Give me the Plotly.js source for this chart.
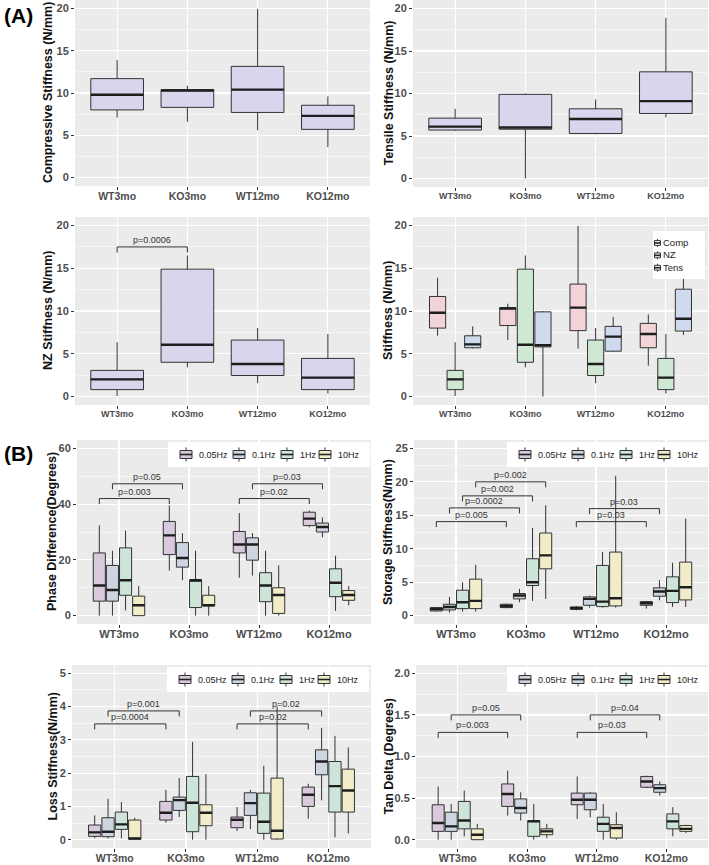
<!DOCTYPE html>
<html><head><meta charset="utf-8">
<script src="https://cdn.plot.ly/plotly-3.0.1.min.js"></script>
<style>html,body{margin:0;padding:0;background:#fff}#chart{width:709px;height:865px}</style>
</head><body><div id="chart"></div>
<script>
// ---------- categories ----------
const groups = ['WT3mo', 'KO3mo', 'WT12mo', 'KO12mo'];
const freqs = ['0.05Hz', '0.1Hz', '1Hz', '10Hz'];
const stiffNames = ['Comp', 'NZ', 'Tens'];

// ---------- panel A: box statistics per group ----------
const compLow  = [7.1, 6.6, 5.6, 3.6];
const compQ1   = [8.0, 8.3, 7.7, 5.7];
const compMed  = [9.8, 10.3, 10.4, 7.3];
const compQ3   = [11.7, 10.4, 13.15, 8.55];
const compHigh = [13.9, 10.85, 19.95, 9.6];

const tensLow  = [5.6, 0.0, 5.2, 7.2];
const tensQ1   = [5.7, 5.8, 5.3, 7.65];
const tensMed  = [6.1, 6.0, 7.0, 9.1];
const tensQ3   = [7.1, 9.9, 8.2, 12.55];
const tensHigh = [8.2, 10.0, 9.3, 18.9];

const nzLow  = [0.05, 3.4, 1.55, 0.35];
const nzQ1   = [0.8, 4.0, 2.45, 0.8];
const nzMed  = [2.0, 6.05, 3.8, 2.2];
const nzQ3   = [3.05, 14.9, 6.6, 4.45];
const nzHigh = [6.35, 16.5, 8.0, 7.3];

// ---------- panel B: rows = frequency (0.05,0.1,1,10 Hz), cols = groups ----------
const phaseLow  = [[0, 16.2, 13.6, 31.7], [0, 12.7, 14.4, 28.1], [1.9, 0, 0, 1.7], [0, 0, 0, 3.7]];
const phaseQ1   = [[5.2, 21.9, 22.5, 32.3], [5.2, 17.4, 19.9, 30.0], [7.3, 2.9, 5.0, 6.8], [0, 3.5, 0.8, 5.5]];
const phaseMed  = [[10.8, 28.8, 25.5, 34.8], [9.2, 20.7, 25.5, 31.8], [12.7, 12.7, 10.8, 11.8], [3.7, 3.7, 7.4, 7.4]];
const phaseQ3   = [[22.5, 33.8, 30.2, 37.1], [18.0, 26.2, 27.9, 33.2], [24.3, 12.7, 15.4, 16.8], [7.0, 7.3, 10.0, 9.0]];
const phaseHigh = [[32.4, 39.5, 36.8, 37.7], [23.3, 29.6, 29.6, 35.2], [30.5, 23.3, 23.3, 21.5], [10.6, 10.6, 18.0, 10.6]];

const storLow  = [[0.6, 1.1, 0.8, 1.05], [0.45, 2.0, 1.2, 2.3], [0.6, 2.2, 1.2, 1.3], [0.6, 2.5, 1.2, 1.3]];
const storQ1   = [[0.7, 1.2, 0.95, 1.55], [0.85, 2.5, 1.55, 2.9], [1.05, 4.5, 1.35, 1.95], [1.05, 7.0, 1.45, 2.35]];
const storMed  = [[1.0, 1.45, 1.1, 1.85], [1.3, 3.0, 2.5, 3.6], [2.0, 5.0, 2.1, 3.7], [2.2, 9.0, 2.6, 4.25]];
const storQ3   = [[1.2, 1.7, 1.3, 2.1], [1.7, 3.3, 2.8, 4.15], [3.8, 8.5, 7.5, 5.8], [5.45, 12.35, 9.5, 8.0]];
const storHigh = [[1.3, 1.8, 1.45, 2.2], [2.8, 4.0, 3.0, 5.3], [5.0, 13.1, 9.5, 7.9], [7.6, 16.5, 20.9, 14.5]];

const lossLow  = [[0.04, 0.51, 0.26, 0.63], [0.04, 0.68, 0.32, 1.18], [0.04, 0, 0, 0.07], [0, 0, 0, 0.19]];
const lossQ1   = [[0.1, 0.59, 0.36, 1.0], [0.09, 0.88, 0.73, 1.95], [0.31, 0.24, 0.19, 0.83], [0.01, 0.42, 0.02, 0.83]];
const lossMed  = [[0.22, 0.81, 0.6, 1.35], [0.24, 1.19, 1.1, 2.35], [0.46, 1.11, 0.54, 1.61], [0.04, 0.81, 0.27, 1.48]];
const lossQ3   = [[0.44, 1.15, 0.68, 1.58], [0.66, 1.28, 1.41, 2.7], [0.83, 1.9, 1.4, 2.35], [0.59, 1.05, 1.85, 2.12]];
const lossHigh = [[0.73, 1.5, 0.98, 1.68], [1.23, 1.85, 1.5, 3.36], [1.13, 2.94, 2.22, 3.12], [0.66, 1.97, 4.0, 2.77]];

const tanLow  = [[0, 0.29, 0.25, 0.62], [0, 0.23, 0.27, 0.53], [0.04, 0, 0, 0.04], [0, 0.02, 0, 0.08]];
const tanQ1   = [[0.1, 0.4, 0.42, 0.63], [0.1, 0.32, 0.36, 0.57], [0.13, 0.04, 0.1, 0.13], [0, 0.06, 0.02, 0.1]];
const tanMed  = [[0.2, 0.55, 0.48, 0.7], [0.16, 0.38, 0.48, 0.62], [0.23, 0.22, 0.19, 0.22], [0.06, 0.1, 0.14, 0.13]];
const tanQ3   = [[0.42, 0.67, 0.56, 0.76], [0.33, 0.49, 0.56, 0.66], [0.46, 0.23, 0.27, 0.31], [0.13, 0.13, 0.18, 0.17]];
const tanHigh = [[0.64, 0.83, 0.76, 0.77], [0.43, 0.57, 0.57, 0.7], [0.59, 0.43, 0.43, 0.39], [0.19, 0.19, 0.33, 0.18]];

// ---------- significance brackets: [group A, group B, series index, height, label] ----------
const nzSig = [['WT3mo', 'KO3mo', -1, 17.5, 'p=0.0006']];
const phaseSig = [['WT3mo', 'KO3mo', 0, 42, 'p=0.003'], ['WT3mo', 'KO3mo', 1, 47.3, 'p=0.05'],
                  ['WT12mo', 'KO12mo', 0, 42, 'p=0.02'], ['WT12mo', 'KO12mo', 1, 47.3, 'p=0.03']];
const storSig = [['WT3mo', 'KO3mo', 0, 14.05, 'p=0.005'], ['WT3mo', 'KO3mo', 1, 16.1, 'p=0.0002'],
                 ['WT3mo', 'KO3mo', 2, 17.9, 'p=0.002'], ['WT3mo', 'KO3mo', 3, 20.0, 'p=0.002'],
                 ['WT12mo', 'KO12mo', 0, 14.05, 'p=0.03'], ['WT12mo', 'KO12mo', 1, 16.0, 'p=0.03']];
const lossSig = [['WT3mo', 'KO3mo', 0, 3.48, 'p=0.0004'], ['WT3mo', 'KO3mo', 1, 3.87, 'p=0.001'],
                 ['WT12mo', 'KO12mo', 0, 3.48, 'p=0.02'], ['WT12mo', 'KO12mo', 1, 3.87, 'p=0.02']];
const tanSig = [['WT3mo', 'KO3mo', 0, 1.29, 'p=0.003'], ['WT3mo', 'KO3mo', 1, 1.5, 'p=0.05'],
                ['WT12mo', 'KO12mo', 0, 1.29, 'p=0.03'], ['WT12mo', 'KO12mo', 1, 1.5, 'p=0.04']];

// ---------- styles ----------
const singleFill = '#D9D5EC';
const stiffFill = ['#F2D3D8', '#CFE8D3', '#CFDAEE'];
const freqFill = ['#D8C9DC', '#CCD5E0', '#CCE5D8', '#F2EDC9'];
const W = 709, H = 865;
const fx = p => p / W;
const fy = p => 1 - p / H;
const BOXGAP = 0.25, GROUPGAP = 0.08;

const panels = [
  {id: '',  x0: 75,  x1: 370, y0: 0,   y1: 186, yr: [-1, 21], dt: 5, mn: 2.5, xfs: 10.5, title: 'Compressive Stiffness (N/mm)', tx: 48},
  {id: '2', x0: 413, x1: 708, y0: 0,   y1: 187, yr: [-1, 21], dt: 5, mn: 2.5, xfs: 9, title: 'Tensile Stiffness (N/mm)', tx: 388},
  {id: '3', x0: 75,  x1: 370, y0: 217, y1: 405, yr: [-1, 21], dt: 5, mn: 2.5, xfs: 9, title: 'NZ Stiffness (N/mm)', tx: 48},
  {id: '4', x0: 413, x1: 708, y0: 217, y1: 405, yr: [-1, 21], dt: 5, mn: 2.5, xfs: 9, title: 'Stiffness (N/mm)', tx: 388},
  {id: '5', x0: 77,  x1: 371, y0: 440, y1: 624, yr: [-3, 63], dt: 20, mn: 10, xfs: 11, title: 'Phase Difference(Degrees)', tx: 52},
  {id: '6', x0: 414, x1: 708, y0: 440, y1: 624, yr: [-1.25, 26.25], dt: 5, mn: 2.5, xfs: 11, title: 'Storage Stiffness(N/mm)', tx: 388},
  {id: '7', x0: 72,  x1: 371, y0: 665, y1: 848, yr: [-0.25, 5.25], dt: 1, mn: 0.5, xfs: 10.5, title: 'Loss Stiffness(N/mm)', tx: 52},
  {id: '8', x0: 416, x1: 708, y0: 665, y1: 848, yr: [-0.1, 2.1], dt: 0.5, mn: 0.25, xfs: 10.5, title: 'Tan Delta (Degrees)', tx: 388, fmt: '.1f'}
];

const layout = {
  width: W, height: H, autosize: false,
  margin: {l: 0, r: 0, t: 0, b: 0},
  paper_bgcolor: '#ffffff', plot_bgcolor: '#EBEBEB',
  showlegend: false, boxmode: 'group', boxgap: BOXGAP, boxgroupgap: GROUPGAP,
  font: {family: 'Liberation Sans, Arial, sans-serif', color: '#333'},
  shapes: [], annotations: []
};
const traces = [];

panels.forEach(p => {
  const k = p.id;
  layout['xaxis' + k] = {
    domain: [fx(p.x0), fx(p.x1)], anchor: 'y' + k, type: 'category',
    categoryorder: 'array', categoryarray: groups, range: [-0.6, 3.6],
    showgrid: true, gridcolor: '#ffffff', gridwidth: 1.2, zeroline: false, showline: false,
    ticks: 'outside', ticklen: 3, tickwidth: 1, tickcolor: '#333', ticklabelstandoff: -3,
    tickfont: {size: p.xfs, color: '#4D4D4D', weight: 'bold'}, fixedrange: true, automargin: false
  };
  layout['yaxis' + k] = {
    domain: [fy(p.y1), fy(p.y0)], anchor: 'x' + k, range: p.yr,
    tickmode: 'linear', tick0: 0, dtick: p.dt, tickformat: p.fmt || '',
    showgrid: true, gridcolor: '#ffffff', gridwidth: 1.2, zeroline: false, showline: false,
    minor: {dtick: p.mn, tick0: 0, showgrid: true, gridcolor: '#ffffff', gridwidth: 0.5},
    ticks: 'outside', ticklen: 3, tickwidth: 1, tickcolor: '#333',
    tickfont: {size: 11, color: '#4D4D4D', weight: 'bold'}, fixedrange: true, automargin: false
  };
  layout.annotations.push({
    xref: 'paper', yref: 'paper', x: fx(p.tx), y: fy((p.y0 + p.y1) / 2),
    text: p.title, textangle: -90, showarrow: false, xanchor: 'center', yanchor: 'middle',
    font: {size: 12.5, color: '#111', weight: 'bold'}
  });
});

function addBox(k, ag, og, width, lo, q1, med, q3, hi, fill) {
  const common = {type: 'box', xaxis: 'x' + k, yaxis: 'y' + k, x: groups,
    alignmentgroup: ag, offsetgroup: og, whiskerwidth: 0, hoverinfo: 'skip', showlegend: false};
  if (width) common.width = width;
  traces.push(Object.assign({}, common, {
    q1: q1, median: med, q3: q3, lowerfence: lo, upperfence: hi,
    fillcolor: fill, line: {color: '#333333', width: 1}
  }));
  traces.push(Object.assign({}, common, {
    q1: med, median: med, q3: med, lowerfence: med, upperfence: med,
    fillcolor: 'rgba(0,0,0,0)', line: {color: '#1e1e1e', width: 2.4}
  }));
}

// Panel A single-series panels
addBox('', 'pA1', 'a1', 0.75, compLow, compQ1, compMed, compQ3, compHigh, singleFill);
addBox('2', 'pA2', 'a2', 0.75, tensLow, tensQ1, tensMed, tensQ3, tensHigh, singleFill);
addBox('3', 'pA3', 'a3', 0.75, nzLow, nzQ1, nzMed, nzQ3, nzHigh, singleFill);
// Panel A combined
const combo = [[compLow, compQ1, compMed, compQ3, compHigh], [nzLow, nzQ1, nzMed, nzQ3, nzHigh], [tensLow, tensQ1, tensMed, tensQ3, tensHigh]];
combo.forEach((s, i) => addBox('4', 'pA4', 'a4_' + i, 0, s[0], s[1], s[2], s[3], s[4], stiffFill[i]));
// Panel B
const bSets = [
  ['5', phaseLow, phaseQ1, phaseMed, phaseQ3, phaseHigh],
  ['6', storLow, storQ1, storMed, storQ3, storHigh],
  ['7', lossLow, lossQ1, lossMed, lossQ3, lossHigh],
  ['8', tanLow, tanQ1, tanMed, tanQ3, tanHigh]
];
bSets.forEach(b => {
  freqs.forEach((f, i) => addBox(b[0], 'pB' + b[0], 'b' + b[0] + '_' + i, 0, b[1][i], b[2][i], b[3][i], b[4][i], b[5][i], freqFill[i]));
});

// significance brackets
function offsetOf(i, n) {
  if (i < 0) return 0;
  return (1 - BOXGAP) * (-0.5 + (i + 0.5) / n);
}
function addSig(k, sig, n, yr) {
  const tip = 0.03 * (yr[1] - yr[0]);
  sig.forEach(s => {
    const xa = groups.indexOf(s[0]) + offsetOf(s[2], n);
    const xb = groups.indexOf(s[1]) + offsetOf(s[2], n);
    const y = s[3];
    layout.shapes.push({type: 'path', xref: 'x' + k, yref: 'y' + k,
      path: `M${xa},${y - tip} L${xa},${y} L${xb},${y} L${xb},${y - tip}`,
      line: {color: '#333', width: 1}});
    layout.annotations.push({xref: 'x' + k, yref: 'y' + k, x: (xa + xb) / 2, y: y,
      text: s[4], showarrow: false, xanchor: 'center', yanchor: 'bottom',
      font: {size: 9, color: '#333'}});
  });
}
addSig('3', nzSig, 1, panels[2].yr);
addSig('5', phaseSig, 4, panels[4].yr);
addSig('6', storSig, 4, panels[5].yr);
addSig('7', lossSig, 4, panels[6].yr);
addSig('8', tanSig, 4, panels[7].yr);

// manual legends (pixel layout)
function rectPx(x0, y0, x1, y1, fill, lc, lw) {
  layout.shapes.push({type: 'rect', xref: 'paper', yref: 'paper',
    x0: fx(x0), x1: fx(x1), y0: fy(y1), y1: fy(y0), fillcolor: fill, line: {color: lc, width: lw}});
}
function linePx(x0, y0, x1, y1, lc, lw) {
  layout.shapes.push({type: 'line', xref: 'paper', yref: 'paper',
    x0: fx(x0), x1: fx(x1), y0: fy(y0), y1: fy(y1), line: {color: lc, width: lw}});
}
function glyph(cx, cy, hw, hh, wh, fill) {
  linePx(cx, cy - wh, cx, cy - hh, '#333', 1);
  linePx(cx, cy + hh, cx, cy + wh, '#333', 1);
  rectPx(cx - hw, cy - hh, cx + hw, cy + hh, fill, '#333', 1);
  linePx(cx - hw, cy, cx + hw, cy, '#222', 1.6);
}
function textPx(x, y, t, size, ya) {
  layout.annotations.push({xref: 'paper', yref: 'paper', x: fx(x), y: fy(y), text: t,
    showarrow: false, xanchor: 'left', yanchor: ya || 'middle', align: 'left', borderpad: 0,
    font: {size: size, color: '#222'}});
}
// panel 4 legend (vertical, one multi-line text)
const legLine = 9.5 * 1.3;
rectPx(653, 231, 705, 279, '#ffffff', 'rgba(0,0,0,0)', 0);
stiffNames.forEach((nm, i) => glyph(657.5, 243 + i * legLine, 3, 2.4, 4, '#f4f4f4'));
textPx(662, 243 + legLine, stiffNames.join('<br>'), 9.5);
// panel B legends (horizontal)
const legOff = [12, 65, 113, 151];
[[168, 442], [507, 442], [167, 667], [507, 667]].forEach(pos => {
  rectPx(pos[0], pos[1], pos[0] + 202, pos[1] + 25, '#ffffff', 'rgba(0,0,0,0)', 0);
  freqs.forEach((f, i) => {
    const gx = pos[0] + legOff[i];
    glyph(gx + 6, pos[1] + 12.5, 6, 4, 7, freqFill[i]);
    textPx(gx + 18, pos[1] + 12.5, f, 9);
  });
});

// panel tags
layout.annotations.push({xref: 'paper', yref: 'paper', x: fx(2), y: fy(15), text: '(A)', showarrow: false,
  xanchor: 'left', yanchor: 'middle', font: {size: 21, color: '#000', weight: 'bold'}});
layout.annotations.push({xref: 'paper', yref: 'paper', x: fx(2), y: fy(453), text: '(B)', showarrow: false,
  xanchor: 'left', yanchor: 'middle', font: {size: 21, color: '#000', weight: 'bold'}});

Plotly.newPlot('chart', traces, layout, {displayModeBar: false, staticPlot: true});
</script>
</body></html>
